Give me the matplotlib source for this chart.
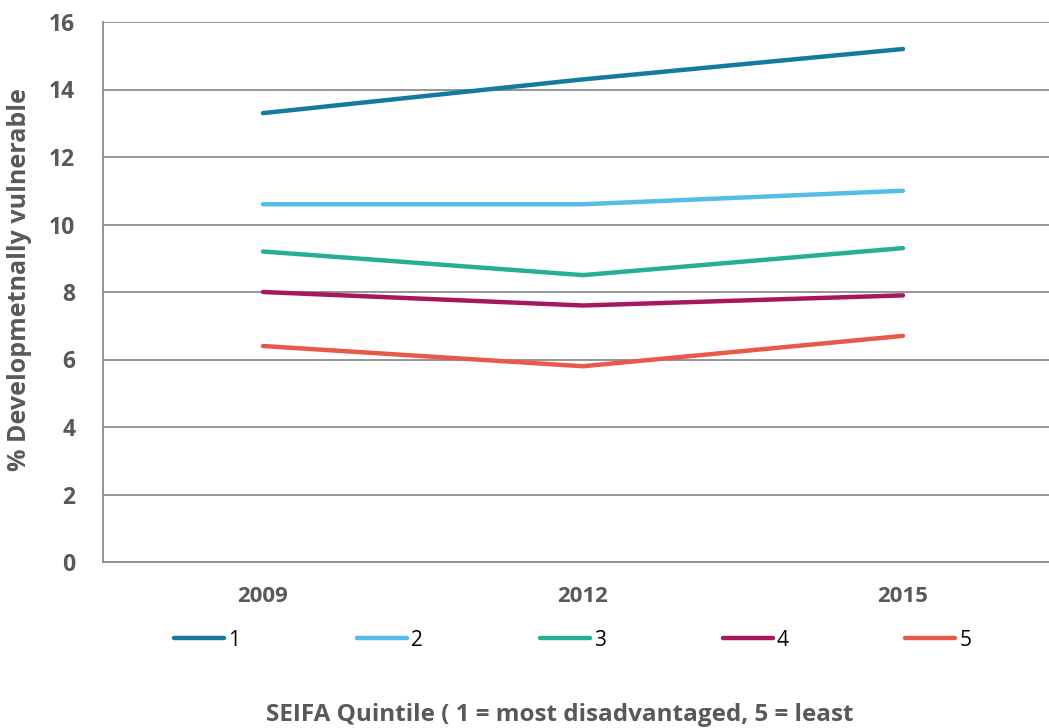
import numpy as np
from matplotlib import pyplot as plt

plt.rcParams['font.family'] = ['Open Sans', 'DejaVu Sans']

years = ['2009', '2012', '2015']
q1 = [13.3, 14.3, 15.2]
q2 = [10.6, 10.6, 11.0]
q3 = [9.2, 8.5, 9.3]
q4 = [8.0, 7.6, 7.9]
q5 = [6.4, 5.8, 6.7]
names = ['1', '2', '3', '4', '5']
colors = ['#167a9e', '#56bbe6', '#25b096', '#a8175e', '#e8594a']

grey = '#595959'
fig = plt.figure(figsize=(10.49, 7.28), dpi=100)
ax = fig.add_axes([103/1049, 1-562/728, 960/1049, 540/728])

x = np.arange(len(years))
for vals, name, c in zip([q1, q2, q3, q4, q5], names, colors):
    ax.plot(x, vals, '-', color=c, lw=3.2, label=name, solid_capstyle='round')

ax.set_xlim(-0.5, 2.5)
ax.set_ylim(0, 16)
ax.set_yticks(range(0, 17, 2))
ax.set_xticks(x)
ax.set_xticklabels(years)
ax.grid(True, axis='y', color='#8c8c8c', lw=1.3)
ax.set_axisbelow(True)
for s in ['top', 'right']:
    ax.spines[s].set_visible(False)
ax.spines['left'].set_color('#8c8c8c')
ax.spines['left'].set_linewidth(1.3)
ax.spines['bottom'].set_color('#8c8c8c')
ax.spines['bottom'].set_linewidth(1.3)
ax.tick_params(length=0, colors=grey)
ax.tick_params(axis='y', pad=20)
ax.tick_params(axis='x', pad=17)
for t in ax.get_yticklabels():
    t.set_fontweight('bold')
    t.set_fontsize(16.5)
for t in ax.get_xticklabels():
    t.set_fontweight('bold')
    t.set_fontsize(16)

fig.text(20/1049, 1-280/728, '% Developmetnally vulnerable', rotation=90,
         ha='center', va='center', fontsize=18, fontweight='bold', color=grey)

fig.legend(loc='center', bbox_to_anchor=(573/1049, 1-640/728), ncol=5,
           frameon=False, fontsize=15, handlelength=2.4, handletextpad=0.2,
           columnspacing=5.6)

fig.text(560/1049, 1-715/728, 'SEIFA Quintile ( 1 = most disadvantaged, 5 = least',
         ha='center', va='center', fontsize=17.5, fontweight='bold', color=grey)

fig.savefig('out.png', dpi=100)
